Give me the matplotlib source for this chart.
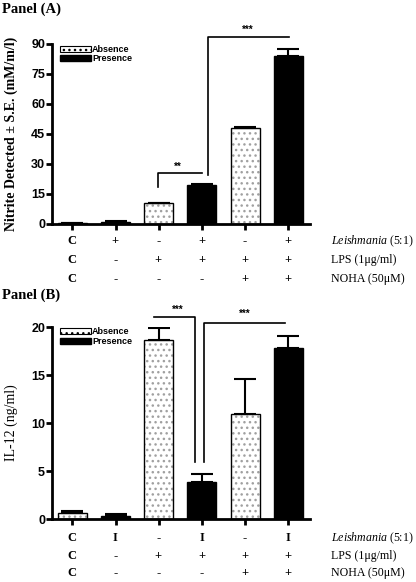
import numpy as np
import matplotlib
matplotlib.use("Agg")
import matplotlib.pyplot as plt
from matplotlib.patches import Patch

plt.rcParams['mathtext.fontset'] = 'custom'
plt.rcParams['mathtext.it'] = 'Liberation Serif:italic'
plt.rcParams['mathtext.rm'] = 'Liberation Serif'

# data
presence = [False, True, False, True, False, True]
nitrite = [0.5, 1.0, 10.3, 19.5, 47.8, 84.0]
nitrite_se = [0.2, 0.3, 0.4, 0.6, 0.7, 3.4]
il12 = [0.6, 0.3, 18.6, 3.9, 10.9, 17.8]
il12_se = [0.2, 0.2, 1.3, 0.75, 3.7, 1.3]

rows_a = [["C", "+", "-", "+", "-", "+"],
          ["C", "-", "+", "+", "+", "+"],
          ["C", "-", "-", "-", "+", "+"]]
rows_b = [["C", "I", "-", "I", "-", "I"],
          ["C", "-", "+", "+", "+", "+"],
          ["C", "-", "-", "-", "+", "+"]]
row_names = [r"$\mathit{Leishmania}$ (5:1)", "LPS (1\u03bcg/ml)", "NOHA (50\u03bcM)"]

W, H = 416, 582
fig = plt.figure(figsize=(W / 100, H / 100), dpi=100)

sans = 'Liberation Sans'
serif = 'Liberation Serif'


def px(x0, y0, x1, y1):
    return [x0 / W, 1 - y1 / H, (x1 - x0) / W, (y1 - y0) / H]


def panel(rect, vals, errs, ymax, ystep, ylabel, lab_bold, rows, row_y, title, title_y):
    ax = fig.add_axes(rect)
    x = np.arange(len(vals))
    wid = 0.67
    for i in range(len(vals)):
        if presence[i]:
            ax.bar(x[i], vals[i], wid, color='black', edgecolor='black', lw=1, zorder=2)
        else:
            ax.bar(x[i], vals[i], wid, color='white', edgecolor='#a0a0a0', hatch='...', lw=0, zorder=2)
            ax.bar(x[i], vals[i], wid, fill=False, edgecolor='black', lw=1, zorder=3)
    ax.errorbar(x, vals, yerr=[np.zeros(len(errs)), errs], fmt='none', ecolor='black',
                elinewidth=1.5, capsize=8, capthick=1.5, zorder=4)
    ax.set_xlim(-0.47, 5.5)
    ax.set_ylim(0, ymax)
    ax.set_yticks(np.arange(0, ymax + 0.01, ystep))
    ax.set_xticks(x)
    ax.set_xticklabels([])
    for s in ['top', 'right']:
        ax.spines[s].set_visible(False)
    for s in ['left', 'bottom']:
        ax.spines[s].set_linewidth(2)
    ax.tick_params(axis='both', direction='out', length=4, width=2)
    for t in ax.get_yticklabels():
        t.set_fontfamily(sans)
        t.set_fontweight('bold')
        t.set_fontsize(9)
    ax.tick_params(axis='y', pad=1)
    ax.set_ylabel(ylabel, fontfamily=serif, fontsize=10,
                  fontweight='bold' if lab_bold else 'normal')
    ax.yaxis.set_label_coords(-0.13, 0.5)

    ax.legend(handles=[Patch(facecolor='white', edgecolor='black', hatch='...', lw=0.8),
                       Patch(facecolor='black', edgecolor='black')],
              labels=['Absence', 'Presence'], loc='upper left',
              bbox_to_anchor=(0.0, 1.04), frameon=False, handlelength=3.4,
              handleheight=0.6, handletextpad=0.15, labelspacing=0.05,
              prop={'family': sans, 'weight': 'bold', 'size': 6.5})

    # condition rows
    for r, (labels, yy) in enumerate(zip(rows, row_y)):
        for i, lab in enumerate(labels):
            fig.text((72 + 43.2 * i) / W, 1 - yy / H, lab, ha='center', va='center',
                     fontfamily=serif, fontweight='bold', fontsize=9)
        fig.text(331 / W, 1 - yy / H, row_names[r], ha='left', va='center',
                 fontfamily=serif, fontsize=8.6)
    fig.text(2 / W, 1 - title_y / H, title, ha='left', va='center',
             fontfamily=serif, fontweight='bold', fontsize=10.5)
    return ax


def bracket(ax, xs, ys, txt_x, txt_y, txt):
    ax.plot(xs, ys, color='black', lw=1.2, clip_on=False, zorder=5)
    ax.text(txt_x, txt_y, txt, ha='center', va='center', fontsize=7,
            fontweight='bold', fontfamily=sans)


ax_a = panel(px(52, 44, 310, 224), nitrite, nitrite_se, 90, 15,
             "Nitrite Detected \u00b1 S.E. (mM/m/l)", True, rows_a, [241, 260, 279],
             "Panel (A)", 9)
bracket(ax_a, [1.98, 1.98, 3.0], [18.5, 25.5, 25.5], 2.43, 28.5, "**")
bracket(ax_a, [3.15, 3.15, 5.02], [24.5, 93.5, 93.5], 4.05, 97, "***")

ax_b = panel(px(52, 327, 310, 519), il12, il12_se, 20, 5,
             "IL-12 (ng/ml)", False, rows_b, [538, 556, 573], "Panel (B)", 295)
bracket(ax_b, [1.88, 2.85, 2.85], [21.0, 21.0, 5.9], 2.43, 21.8, "***")
bracket(ax_b, [3.04, 3.04, 4.93], [5.9, 20.45, 20.45], 3.98, 21.35, "***")

fig.savefig("out.png", dpi=100)
